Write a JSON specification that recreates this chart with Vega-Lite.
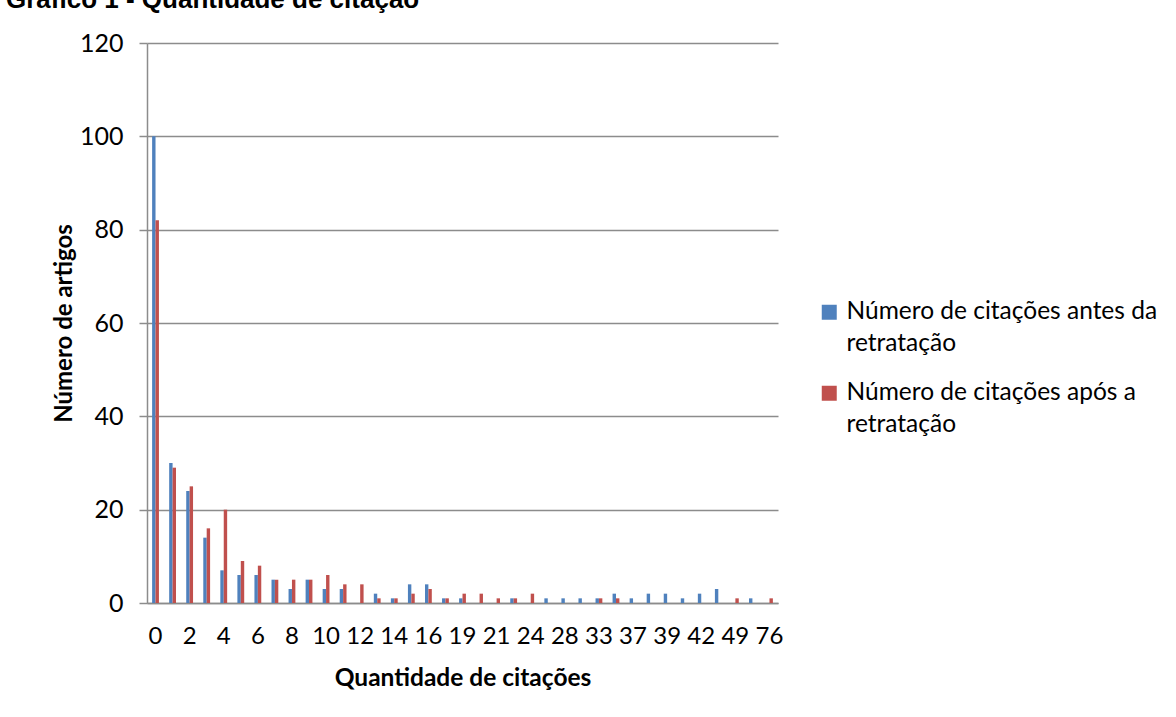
{
  "$schema": "https://vega.github.io/schema/vega-lite/v6.json",
  "width": 631,
  "height": 560,
  "autosize": {"type": "none"},
  "padding": {"left": 147, "top": 43, "right": 398, "bottom": 114},
  "background": "white",
  "title": {
    "text": "Gráfico 1 - Quantidade de citação",
    "anchor": "start",
    "frame": "group",
    "font": "Liberation Sans",
    "fontWeight": "bold",
    "fontSize": 26,
    "color": "black",
    "baseline": "alphabetic",
    "offset": 5,
    "dy": 8,
    "dx": -141
  },
  "config": {
    "view": {"stroke": null},
    "font": "Lato",
    "style": {"guide-label": {"lineHeight": 32}}
  },
  "data": {
    "values": [
      {"q": "0", "s": "Número de citações antes da retratação", "n": 100},
      {"q": "0", "s": "Número de citações após a retratação", "n": 82},
      {"q": "1", "s": "Número de citações antes da retratação", "n": 30},
      {"q": "1", "s": "Número de citações após a retratação", "n": 29},
      {"q": "2", "s": "Número de citações antes da retratação", "n": 24},
      {"q": "2", "s": "Número de citações após a retratação", "n": 25},
      {"q": "3", "s": "Número de citações antes da retratação", "n": 14},
      {"q": "3", "s": "Número de citações após a retratação", "n": 16},
      {"q": "4", "s": "Número de citações antes da retratação", "n": 7},
      {"q": "4", "s": "Número de citações após a retratação", "n": 20},
      {"q": "5", "s": "Número de citações antes da retratação", "n": 6},
      {"q": "5", "s": "Número de citações após a retratação", "n": 9},
      {"q": "6", "s": "Número de citações antes da retratação", "n": 6},
      {"q": "6", "s": "Número de citações após a retratação", "n": 8},
      {"q": "7", "s": "Número de citações antes da retratação", "n": 5},
      {"q": "7", "s": "Número de citações após a retratação", "n": 5},
      {"q": "8", "s": "Número de citações antes da retratação", "n": 3},
      {"q": "8", "s": "Número de citações após a retratação", "n": 5},
      {"q": "9", "s": "Número de citações antes da retratação", "n": 5},
      {"q": "9", "s": "Número de citações após a retratação", "n": 5},
      {"q": "10", "s": "Número de citações antes da retratação", "n": 3},
      {"q": "10", "s": "Número de citações após a retratação", "n": 6},
      {"q": "11", "s": "Número de citações antes da retratação", "n": 3},
      {"q": "11", "s": "Número de citações após a retratação", "n": 4},
      {"q": "12", "s": "Número de citações antes da retratação", "n": 0},
      {"q": "12", "s": "Número de citações após a retratação", "n": 4},
      {"q": "13", "s": "Número de citações antes da retratação", "n": 2},
      {"q": "13", "s": "Número de citações após a retratação", "n": 1},
      {"q": "14", "s": "Número de citações antes da retratação", "n": 1},
      {"q": "14", "s": "Número de citações após a retratação", "n": 1},
      {"q": "15", "s": "Número de citações antes da retratação", "n": 4},
      {"q": "15", "s": "Número de citações após a retratação", "n": 2},
      {"q": "16", "s": "Número de citações antes da retratação", "n": 4},
      {"q": "16", "s": "Número de citações após a retratação", "n": 3},
      {"q": "17", "s": "Número de citações antes da retratação", "n": 1},
      {"q": "17", "s": "Número de citações após a retratação", "n": 1},
      {"q": "19", "s": "Número de citações antes da retratação", "n": 1},
      {"q": "19", "s": "Número de citações após a retratação", "n": 2},
      {"q": "20", "s": "Número de citações antes da retratação", "n": 0},
      {"q": "20", "s": "Número de citações após a retratação", "n": 2},
      {"q": "21", "s": "Número de citações antes da retratação", "n": 0},
      {"q": "21", "s": "Número de citações após a retratação", "n": 1},
      {"q": "22", "s": "Número de citações antes da retratação", "n": 1},
      {"q": "22", "s": "Número de citações após a retratação", "n": 1},
      {"q": "24", "s": "Número de citações antes da retratação", "n": 0},
      {"q": "24", "s": "Número de citações após a retratação", "n": 2},
      {"q": "25", "s": "Número de citações antes da retratação", "n": 1},
      {"q": "25", "s": "Número de citações após a retratação", "n": 0},
      {"q": "28", "s": "Número de citações antes da retratação", "n": 1},
      {"q": "28", "s": "Número de citações após a retratação", "n": 0},
      {"q": "30", "s": "Número de citações antes da retratação", "n": 1},
      {"q": "30", "s": "Número de citações após a retratação", "n": 0},
      {"q": "33", "s": "Número de citações antes da retratação", "n": 1},
      {"q": "33", "s": "Número de citações após a retratação", "n": 1},
      {"q": "35", "s": "Número de citações antes da retratação", "n": 2},
      {"q": "35", "s": "Número de citações após a retratação", "n": 1},
      {"q": "37", "s": "Número de citações antes da retratação", "n": 1},
      {"q": "37", "s": "Número de citações após a retratação", "n": 0},
      {"q": "38", "s": "Número de citações antes da retratação", "n": 2},
      {"q": "38", "s": "Número de citações após a retratação", "n": 0},
      {"q": "39", "s": "Número de citações antes da retratação", "n": 2},
      {"q": "39", "s": "Número de citações após a retratação", "n": 0},
      {"q": "40", "s": "Número de citações antes da retratação", "n": 1},
      {"q": "40", "s": "Número de citações após a retratação", "n": 0},
      {"q": "42", "s": "Número de citações antes da retratação", "n": 2},
      {"q": "42", "s": "Número de citações após a retratação", "n": 0},
      {"q": "44", "s": "Número de citações antes da retratação", "n": 3},
      {"q": "44", "s": "Número de citações após a retratação", "n": 0},
      {"q": "49", "s": "Número de citações antes da retratação", "n": 0},
      {"q": "49", "s": "Número de citações após a retratação", "n": 1},
      {"q": "52", "s": "Número de citações antes da retratação", "n": 1},
      {"q": "52", "s": "Número de citações após a retratação", "n": 0},
      {"q": "76", "s": "Número de citações antes da retratação", "n": 0},
      {"q": "76", "s": "Número de citações após a retratação", "n": 1}
    ]
  },
  "mark": {"type": "bar"},
  "encoding": {
    "x": {
      "field": "q",
      "type": "ordinal",
      "sort": ["0","1","2","3","4","5","6","7","8","9","10","11","12","13","14","15","16","17","19","20","21","22","24","25","28","30","33","35","37","38","39","40","42","44","49","52","76"],
      "scale": {"paddingInner": 0.6, "paddingOuter": 0.3},
      "axis": {
        "values": ["0","2","4","6","8","10","12","14","16","19","21","24","28","33","37","39","42","49","76"],
        "labelAngle": 0,
        "ticks": false,
        "tickSize": 0,
        "labelPadding": 21,
        "labelFont": "Lato",
        "labelFontSize": 24,
        "labelColor": "black",
        "domainColor": "#8c8c8c",
        "domainWidth": 1.5,
        "title": "Quantidade de citações",
        "titleFont": "Lato",
        "titleFontSize": 24.5,
        "titleFontWeight": "bold",
        "titleColor": "black",
        "titlePadding": 18
      }
    },
    "xOffset": {
      "field": "s",
      "sort": ["Número de citações antes da retratação", "Número de citações após a retratação"]
    },
    "y": {
      "field": "n",
      "type": "quantitative",
      "scale": {"domain": [0, 120]},
      "axis": {
        "values": [0, 20, 40, 60, 80, 100, 120],
        "grid": true,
        "gridColor": "#8c8c8c",
        "gridWidth": 1.5,
        "tickColor": "#8c8c8c",
        "tickWidth": 1.5,
        "tickSize": 8,
        "domainColor": "#8c8c8c",
        "domainWidth": 1.5,
        "labelPadding": 16,
        "labelFont": "Lato",
        "labelFontSize": 25,
        "labelColor": "black",
        "title": "Número de artigos",
        "titleFont": "Lato",
        "titleFontSize": 24,
        "titleFontWeight": "bold",
        "titleColor": "black",
        "titlePadding": 3
      }
    },
    "color": {
      "field": "s",
      "type": "nominal",
      "scale": {
        "domain": ["Número de citações antes da retratação", "Número de citações após a retratação"],
        "range": ["#4F81BD", "#C0504D"]
      },
      "legend": {
        "title": null,
        "orient": "none",
        "legendX": 670,
        "legendY": 257,
        "symbolType": "square",
        "symbolSize": 225,
        "symbolStrokeWidth": 0,
        "labelFont": "Lato",
        "labelFontSize": 24.5,
        "labelColor": "black",
        "labelLimit": 400,
        "labelOffset": 5,
        "rowPadding": 24,
        "labelExpr": "datum.label == 'Número de citações antes da retratação' ? ['Número de citações antes da', 'retratação'] : ['Número de citações após a', 'retratação']"
      }
    }
  }
}
